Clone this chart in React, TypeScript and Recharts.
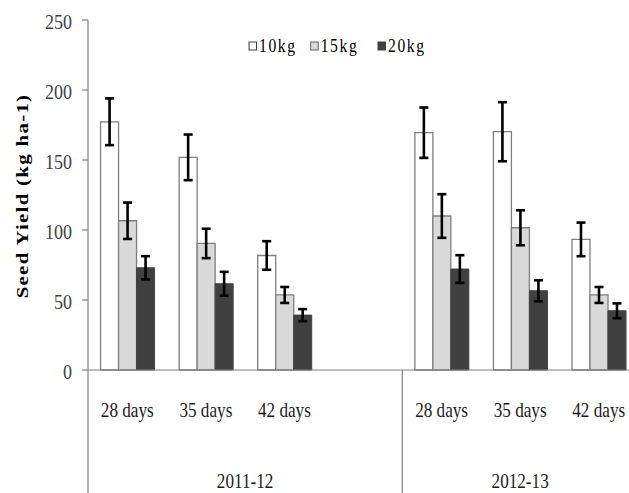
import React from "react";
import { BarChart, Bar, XAxis, YAxis, ErrorBar, Legend, Label } from "recharts";

const days = ["28 days", "35 days", "42 days", "", "28 days", "35 days", "42 days"];
const yearOf = ["2011-12", "2011-12", "2011-12", "2011-12", "2012-13", "2012-13", "2012-13"];
const kg10 = [177.3, 151.9, 81.8, null, 169.5, 170.2, 93.3];
const kg10Err = [16.7, 16.3, 10.2, null, 18, 21.1, 12];
const kg15 = [106.6, 90.4, 53.6, null, 110, 101.6, 53.6];
const kg15Err = [13, 10.5, 5.7, null, 15.6, 12.5, 5.7];
const kg20 = [73, 61.6, 39.2, null, 72.1, 56.6, 42.3];
const kg20Err = [8.3, 8.5, 4.3, null, 9.9, 7.5, 5.3];
const yTicks = [0, 50, 100, 150, 200, 250];
const seriesNames = ["10kg", "15kg", "20kg"];

const data = days.map((d, i) => ({
  day: d,
  year: yearOf[i],
  w10: kg10[i],
  e10: kg10Err[i],
  w15: kg15[i],
  e15: kg15Err[i],
  w20: kg20[i],
  e20: kg20Err[i],
}));

const SERIF = "'Liberation Serif', 'DejaVu Serif', serif";
const GRID = "#808080";

const XTick = (props: any) => {
  const { x, y, payload, index } = props;
  const half = payload && typeof payload.offset === "number" ? payload.offset : 39.3;
  const i = typeof index === "number" ? index : payload.index;
  const yr = yearOf[i];
  const isFirst = i === 0 || yearOf[i - 1] !== yr;
  let groupCount = 0;
  for (let k = i; k < yearOf.length && yearOf[k] === yr; k++) groupCount++;
  const start = x - half;
  return (
    <g>
      {payload.value ? (
        <text
          transform={`translate(${x},${y + 47}) scale(0.78,1)`}
          textAnchor="middle"
          fontFamily={SERIF}
          fontSize={22}
          fill="#1a1a1a"
        >
          {payload.value}
        </text>
      ) : null}
      {isFirst ? (
        <g>
          <line x1={start} y1={y} x2={start} y2={y + 123} stroke={GRID} strokeWidth={1.2} />
          <text
            transform={`translate(${start + groupCount * half},${y + 118}) scale(0.78,1)`}
            textAnchor="middle"
            fontFamily={SERIF}
            fontSize={22}
            fill="#1a1a1a"
          >
            {yr}
          </text>
        </g>
      ) : null}
    </g>
  );
};

const YTick = (props: any) => {
  const { x, y, payload } = props;
  return (
    <text
      transform={`translate(${x},${y + 8.5}) scale(0.9,1)`}
      textAnchor="end"
      fontFamily={SERIF}
      fontSize={20}
      fill="#404040"
    >
      {payload.value}
    </text>
  );
};

const YLabel = (props: any) => {
  const vb = props.viewBox || { x: 0, y: 12, width: 80, height: 350 };
  const cx = vb.x + 19.5;
  const cy = vb.y + vb.height / 2 + 1;
  return (
    <text
      transform={`translate(${cx},${cy}) rotate(-90) scale(1.27,1)`}
      textAnchor="middle"
      fontFamily={SERIF}
      fontWeight="bold"
      fontSize={16.5}
      letterSpacing={1}
      fill="#000"
    >
      Seed Yield (kg ha-1)
    </text>
  );
};

const legendStyles = [
  { fill: "#ffffff", stroke: "#404040" },
  { fill: "#d9d9d9", stroke: "#606060" },
  { fill: "#404040", stroke: "#404040" },
];
const legendX = [4, 65.7, 133];

const LegendContent = () => (
  <svg width={200} height={30} style={{ overflow: "visible", display: "block" }}>
    {seriesNames.map((n, i) => (
      <g key={n}>
        <rect x={legendX[i]} y={12} width={7.5} height={8} fill={legendStyles[i].fill} stroke={legendStyles[i].stroke} strokeWidth={1} />
        <text
          transform={`translate(${legendX[i] + 10},${21.5}) scale(0.8,1)`}
          fontFamily={SERIF}
          fontSize={19.5}
          letterSpacing={2}
          fill="#000"
        >
          {n}
        </text>
      </g>
    ))}
  </svg>
);

export default function App() {
  return (
    <div style={{ position: "absolute", left: 8, top: 8, width: 621, height: 485, overflow: "hidden", background: "#fff" }}>
      <BarChart
        width={640}
        height={485}
        data={data}
        margin={{ top: 12, right: 10, bottom: 0, left: 0 }}
        barCategoryGap="16%"
        barGap={0}
      >
        <XAxis
          dataKey="day"
          interval={0}
          tickLine={false}
          tickSize={0}
          tickMargin={0}
          height={123}
          axisLine={{ stroke: GRID, strokeWidth: 1.2 }}
          tick={<XTick />}
        />
        <YAxis
          width={80}
          domain={[0, 250]}
          ticks={yTicks}
          interval={0}
          tickSize={6}
          tickMargin={10}
          axisLine={{ stroke: GRID, strokeWidth: 1.2 }}
          tickLine={{ stroke: GRID, strokeWidth: 1.2 }}
          tick={<YTick />}
        >
          <Label content={<YLabel />} />
        </YAxis>
        <Legend
          layout="horizontal"
          verticalAlign="middle"
          align="center"
          wrapperStyle={{ position: "absolute", top: 22, left: 237, width: 200, height: 30 }}
          content={<LegendContent />}
        />
        <Bar dataKey="w10" name="10kg" fill="#ffffff" stroke="#7f7f7f" strokeWidth={1.3} isAnimationActive={false}>
          <ErrorBar dataKey="e10" direction="y" width={4.5} stroke="#000" strokeWidth={2.6} isAnimationActive={false} />
        </Bar>
        <Bar dataKey="w15" name="15kg" fill="#d9d9d9" stroke="#7f7f7f" strokeWidth={1.3} isAnimationActive={false}>
          <ErrorBar dataKey="e15" direction="y" width={4.5} stroke="#000" strokeWidth={2.6} isAnimationActive={false} />
        </Bar>
        <Bar dataKey="w20" name="20kg" fill="#404040" stroke="#404040" strokeWidth={1} isAnimationActive={false}>
          <ErrorBar dataKey="e20" direction="y" width={4.5} stroke="#000" strokeWidth={2.6} isAnimationActive={false} />
        </Bar>
      </BarChart>
    </div>
  );
}
